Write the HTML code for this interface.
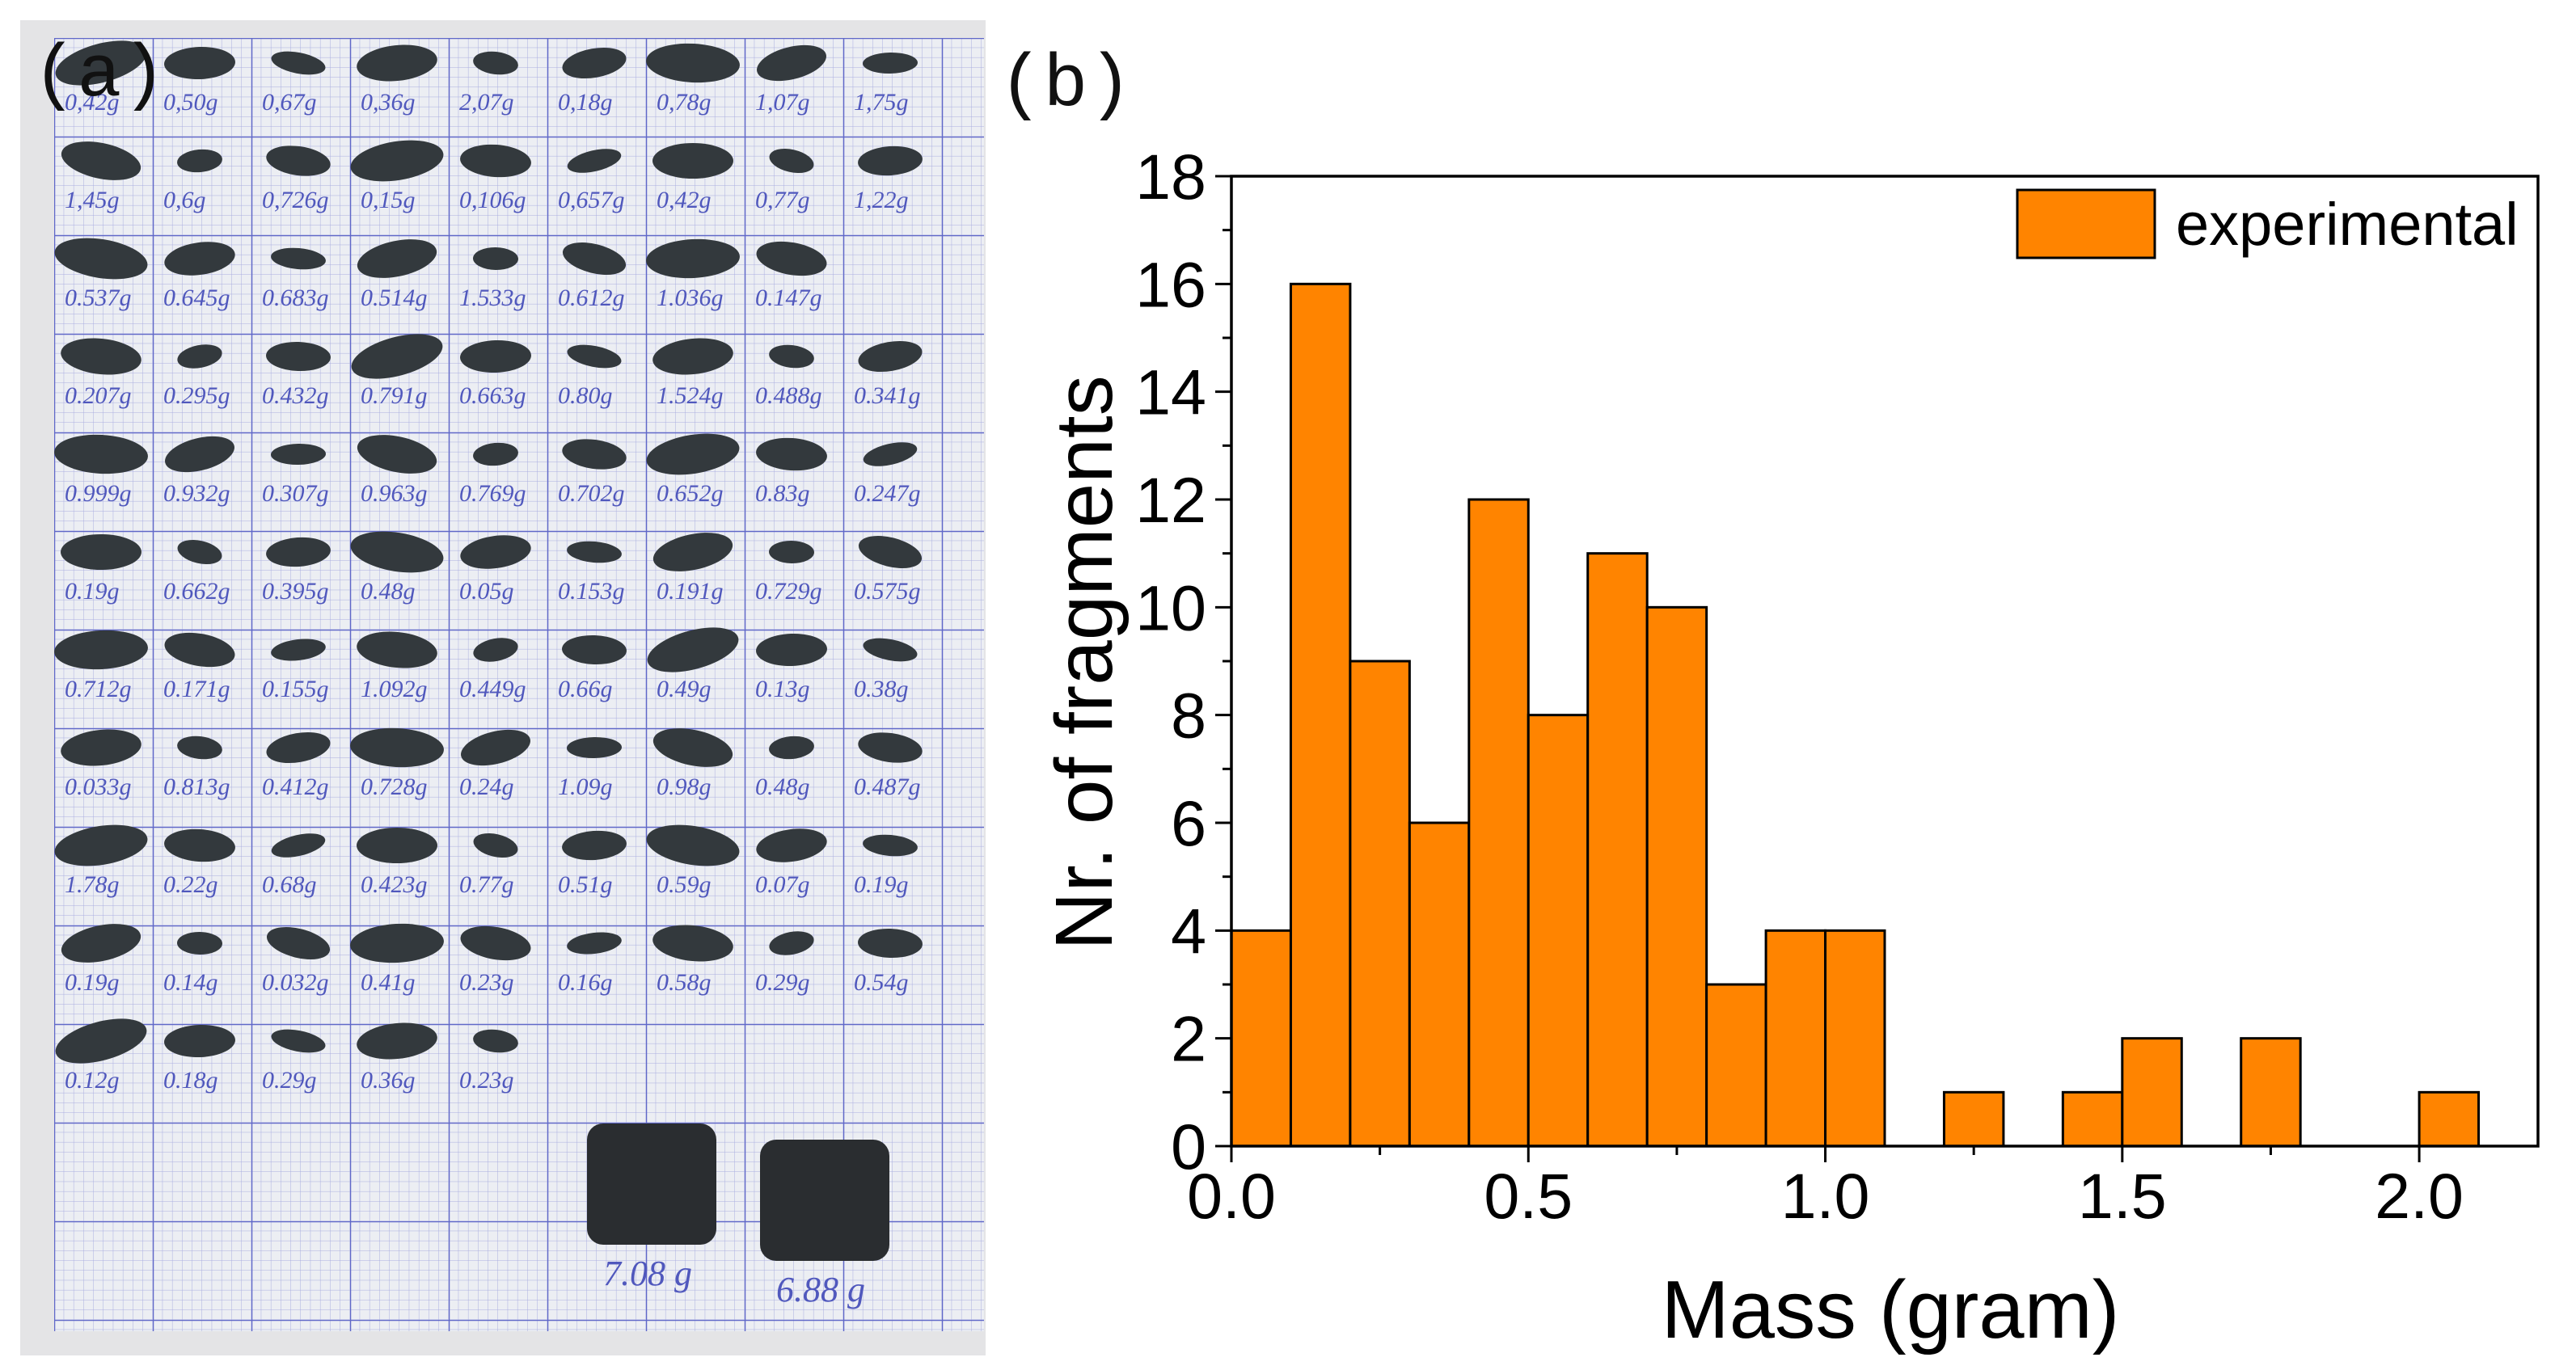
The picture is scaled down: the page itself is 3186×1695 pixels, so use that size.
<!DOCTYPE html>
<html><head><meta charset="utf-8">
<style>
html,body{margin:0;padding:0;background:#fff;}
svg{display:block;}
</style></head>
<body>
<svg id="fig" width="3186" height="1695" viewBox="0 0 3186 1695" xmlns="http://www.w3.org/2000/svg">
  <defs>
    <pattern id="minor" width="12.2" height="12.2" patternUnits="userSpaceOnUse" x="67" y="47">
      <path d="M12.2 0V12.2M0 12.2H12.2" stroke="#a9addf" stroke-width="1" fill="none"/>
    </pattern>
    <pattern id="major" width="122" height="122" patternUnits="userSpaceOnUse" x="67" y="47">
      <path d="M0 0V122M0 0H122" stroke="#5f67c8" stroke-width="2.5" fill="none"/>
    </pattern>
  </defs>
  <g id="photo">
    <rect x="25" y="25" width="1194" height="1652" fill="#e4e4e6"/>
    <rect x="67" y="47" width="1150" height="1600" fill="#eceef3"/>
    <rect x="67" y="47" width="1150" height="1600" fill="url(#minor)"/>
    <rect x="67" y="47" width="1150" height="1600" fill="url(#major)"/>
    <g id="blobs"></g>
  </g>
  <text x="40" y="118" font-family="Liberation Mono, monospace" font-size="92" fill="#111">(a)</text>
  <text x="1235" y="130" font-family="Liberation Mono, monospace" font-size="92" fill="#111">(b)</text>
  <g id="chart"></g>
</svg>
<script>
// Histogram data
const binStarts = [0.0,0.1,0.2,0.3,0.4,0.5,0.6,0.7,0.8,0.9,1.0,1.1,1.2,1.3,1.4,1.5,1.6,1.7,1.8,1.9,2.0,2.1];
const counts    = [4,16,9,6,12,8,11,10,3,4,4,0,1,0,1,2,0,2,0,0,1,0];
const binWidth = 0.1;
const yTicks = [0,2,4,6,8,10,12,14,16,18];
const xTicks = [0.0,0.5,1.0,1.5,2.0];
const xTickLabels = ["0.0","0.5","1.0","1.5","2.0"];
const photoMasses = ["0,42g","0,50g","0,67g","0,36g","2,07g","0,18g","0,78g","1,07g","1,75g",
 "1,45g","0,6g","0,726g","0,15g","0,106g","0,657g","0,42g","0,77g","1,22g",
 "0.537g","0.645g","0.683g","0.514g","1.533g","0.612g","1.036g","0.147g","",
 "0.207g","0.295g","0.432g","0.791g","0.663g","0.80g","1.524g","0.488g","0.341g",
 "0.999g","0.932g","0.307g","0.963g","0.769g","0.702g","0.652g","0.83g","0.247g",
 "0.19g","0.662g","0.395g","0.48g","0.05g","0.153g","0.191g","0.729g","0.575g",
 "0.712g","0.171g","0.155g","1.092g","0.449g","0.66g","0.49g","0.13g","0.38g",
 "0.033g","0.813g","0.412g","0.728g","0.24g","1.09g","0.98g","0.48g","0.487g",
 "1.78g","0.22g","0.68g","0.423g","0.77g","0.51g","0.59g","0.07g","0.19g",
 "0.19g","0.14g","0.032g","0.41g","0.23g","0.16g","0.58g","0.29g","0.54g",
 "0.12g","0.18g","0.29g","0.36g","0.23g"];

const NS = "http://www.w3.org/2000/svg";
function mk(tag, attrs, parent){const e=document.createElementNS(NS,tag);for(const k in attrs)e.setAttribute(k,attrs[k]);parent.appendChild(e);return e;}

// Photo fragments
const blobs = document.getElementById('blobs');
for(let i=0;i<photoMasses.length;i++){
  const r=Math.floor(i/9), c=i%9;
  if(!photoMasses[i]) continue;
  const cx=125+c*122, cy=78+r*121;
  const w=[58,44,34,50,28,40][(i*7)%6], h=[24,18,14,22,13,20][(i*5)%6];
  const b=mk('ellipse',{cx:cx,cy:cy,rx:w,ry:h,fill:'#33393d',transform:'rotate('+(((i*13)%30)-15)+' '+cx+' '+cy+')'},blobs);
  
  
  const t=mk('text',{x:cx-45,y:cy+58,'font-family':'Liberation Serif, serif','font-style':'italic','font-size':30,fill:'#5058bd'},blobs);
  t.textContent=photoMasses[i];
  
  
}
[[806,1460,"7.08 g"],[1020,1480,"6.88 g"]].forEach(p=>{
  const b=mk('rect',{x:p[0]-80,y:p[1]-70,width:160,height:150,rx:20,fill:'#2a2d30'},blobs);
  
  
  const t=mk('text',{x:p[0]-60,y:p[1]+130,'font-family':'Liberation Serif, serif','font-style':'italic','font-size':44,fill:'#5058bd'},blobs);
  t.textContent=p[2];
  
  
});

// Chart
const L=1523, R=3139, T=218, B=1418, xMax=2.2, yMax=18;
const xs=v=>L+(v/xMax)*(R-L);
const ys=v=>B-(v/yMax)*(B-T);
const g=document.getElementById('chart');
for(let i=0;i<binStarts.length;i++){
  if(counts[i]<=0) continue;
  const x0=xs(binStarts[i]), x1=xs(binStarts[i]+binWidth), y=ys(counts[i]);
  const r=mk('rect',{x:x0,y:y,width:x1-x0,height:B-y,fill:'#ff8400',stroke:'#000','stroke-width':3},g);
  
  
}
const frame=mk('rect',{x:L,y:T,width:R-L,height:B-T,fill:'none',stroke:'#000','stroke-width':3.5},g);


for(let v=0;v<=yMax;v++){
  const major=v%2===0;
  const tk=mk('line',{x1:L-(major?20:11),x2:L,y1:ys(v),y2:ys(v),stroke:'#000','stroke-width':3},g);
  
  
}
yTicks.forEach(v=>{
  const t=mk('text',{x:1492,y:ys(v)+28,'text-anchor':'end','font-family':'Liberation Sans, sans-serif','font-size':79,fill:'#000'},g);
  t.textContent=String(v);
  
  
});
for(let k=0;k<=8;k++){
  const v=k*0.25, major=k%2===0;
  const tk=mk('line',{x1:xs(v),x2:xs(v),y1:B,y2:B+(major?20:11),stroke:'#000','stroke-width':3},g);
  
  
}
xTicks.forEach((v,i)=>{
  const t=mk('text',{x:xs(v),y:1507,'text-anchor':'middle','font-family':'Liberation Sans, sans-serif','font-size':79,fill:'#000'},g);
  t.textContent=xTickLabels[i];
  
  
});
const xt=mk('text',{x:2338,y:1655,'text-anchor':'middle','font-family':'Liberation Sans, sans-serif','font-size':101,fill:'#000'},g);
xt.textContent='Mass (gram)';


const yt=mk('text',{x:0,y:0,transform:'translate(1375,820) rotate(-90)','text-anchor':'middle','font-family':'Liberation Sans, sans-serif','font-size':100,fill:'#000'},g);
yt.textContent='Nr. of fragments';


const lg=mk('rect',{x:2495,y:235,width:170,height:84,fill:'#ff8400',stroke:'#000','stroke-width':3},g);


const lt=mk('text',{x:2691,y:303,'font-family':'Liberation Sans, sans-serif','font-size':74,fill:'#000'},g);
lt.textContent='experimental';


</script>
</body></html>
